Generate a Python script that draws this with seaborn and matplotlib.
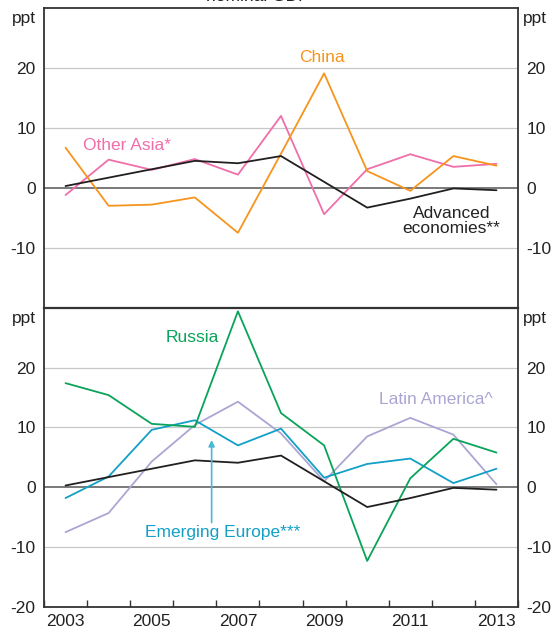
import seaborn as sns
import matplotlib.pyplot as plt
import pandas as pd

years = list(range(2003, 2014))

# top panel
advanced = [0.3, 1.7, 3.1, 4.5, 4.1, 5.3, 1.0, -3.3, -1.8, -0.1, -0.4]
other_asia = [-1.2, 4.7, 3.0, 4.8, 2.2, 12.0, -4.4, 3.1, 5.6, 3.5, 4.0]
china = [6.7, -3.0, -2.8, -1.6, -7.5, 5.7, 19.1, 2.8, -0.5, 5.3, 3.7]

# bottom panel
russia = [17.4, 15.4, 10.6, 10.1, 29.4, 12.4, 7.0, -12.3, 1.5, 8.1, 5.8]
em_europe = [-1.8, 1.8, 9.6, 11.2, 7.0, 9.8, 1.6, 3.9, 4.8, 0.7, 3.1]
latin_america = [-7.5, -4.3, 4.3, 10.4, 14.3, 9.0, 1.0, 8.5, 11.6, 8.8, 0.5]

colors = {
    'Advanced': '#231f20',
    'Other Asia': '#f06eaa',
    'China': '#f7941d',
    'Russia': '#0aa35a',
    'Emerging Europe': '#12a0c6',
    'Latin America': '#aaa6d3',
}

top = pd.DataFrame({
    'year': years * 3,
    'value': other_asia + china + advanced,
    'series': ['Other Asia'] * 11 + ['China'] * 11 + ['Advanced'] * 11,
})
bottom = pd.DataFrame({
    'year': years * 4,
    'value': latin_america + em_europe + russia + advanced,
    'series': ['Latin America'] * 11 + ['Emerging Europe'] * 11
              + ['Russia'] * 11 + ['Advanced'] * 11,
})

FS = 12.5
sns.set_style('white')
plt.rcParams['font.family'] = ['Liberation Sans', 'DejaVu Sans']
plt.rcParams['font.size'] = FS
plt.rcParams['axes.unicode_minus'] = False

fig = plt.figure(figsize=(5.59, 6.35), dpi=100)
ax1 = fig.add_axes([0.0787, 0.5154, 0.848, 0.472])
ax2 = fig.add_axes([0.0787, 0.0441, 0.848, 0.4713])

for ax, df in [(ax1, top), (ax2, bottom)]:
    ax.axhline(0, color='#555555', lw=1.1, zorder=1)
    for v in [-10, 10, 20]:
        ax.axhline(v, color='#c8c8c8', lw=0.9, zorder=0)
    sns.lineplot(data=df, x='year', y='value', hue='series', palette=colors,
                 ax=ax, legend=False, lw=1.3, zorder=3)
    ax.set_xlim(2002.5, 2013.5)
    ax.set_ylim(-20, 30)
    ax.set_xlabel('')
    ax.set_ylabel('')
    for s in ax.spines.values():
        s.set_color('#333333')
        s.set_linewidth(1.3)
    ax.tick_params(axis='y', length=0, pad=6, labelright=True, labelleft=True,
                   colors='#222222', labelsize=FS)
    ax.text(-0.018, 0.99, 'ppt', transform=ax.transAxes, ha='right',
            va='top', fontsize=FS, color='#222222')
    ax.text(1.01, 0.99, 'ppt', transform=ax.transAxes, ha='left',
            va='top', fontsize=FS, color='#222222')

ax1.set_yticks([-10, 0, 10, 20])
ax2.set_yticks([-20, -10, 0, 10, 20])
ax1.set_xticks([])
ax1.spines['bottom'].set_visible(False)

ax2.set_xticks(range(2003, 2014, 2))
ax2.set_xticks([y + 0.5 for y in range(2002, 2014)], minor=True)
ax2.tick_params(axis='x', which='major', length=0, pad=5, colors='#222222',
                labelsize=FS)
ax2.tick_params(axis='x', which='minor', direction='in', length=5,
                width=1, color='#333333', bottom=True)
ax2.spines['top'].set_linewidth(1.6)

# labels
ax1.text(2008.94, 21.8, 'China', color=colors['China'], ha='center',
         va='center', fontsize=FS)
ax1.text(2004.42, 7.0, 'Other Asia*', color=colors['Other Asia'],
         ha='center', va='center', fontsize=FS)
ax1.text(2011.96, -5.6, 'Advanced\neconomies**', color='#222222',
         ha='center', va='center', fontsize=FS, linespacing=1.0)
ax2.text(2005.95, 25.1, 'Russia', color=colors['Russia'], ha='center',
         va='center', fontsize=FS)
ax2.text(2011.6, 14.7, 'Latin America^', color=colors['Latin America'],
         ha='center', va='center', fontsize=FS)
ax2.text(2006.65, -7.6, 'Emerging Europe***', color=colors['Emerging Europe'],
         ha='center', va='center', fontsize=FS)
ax2.annotate('', xy=(2006.39, 7.9), xytext=(2006.39, -5.9),
             arrowprops=dict(arrowstyle='-|>', color='#4bb8d6', lw=1.2,
                             mutation_scale=9, shrinkA=0, shrinkB=0))

# title line is cut off at the top edge, as in the source image
fig.text(0.462, 1.006, 'nominal GDP', ha='center', va='center',
         fontsize=FS, color='#222222')

fig.savefig('out.png', dpi=100)
